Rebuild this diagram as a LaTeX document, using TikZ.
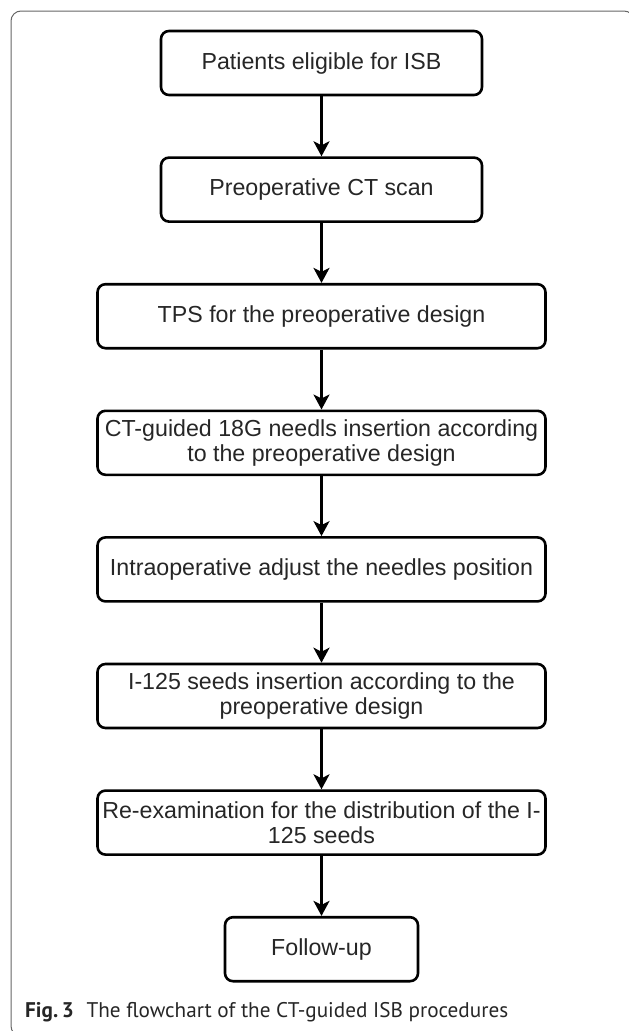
\documentclass[tikz,border=0pt]{standalone}
\usepackage{fontspec}
\setmainfont{Liberation Sans}
\newfontfamily\capfont{PT Sans}
\usetikzlibrary{positioning,arrows.meta}

\begin{document}
\begin{tikzpicture}
   [x=1pt,y=1pt,
    flow/.style={rectangle,draw,line width=2.6pt,rounded corners=8pt,
     minimum height=64pt,align=center,inner sep=2pt,text=black!85,
     font=\fontsize{23.2}{24.5}\selectfont},
    wide/.style={minimum width=448pt},
    link/.style={-{Stealth[length=15pt,width=16pt,inset=4pt]},line width=2.6pt},
    node distance=60pt]

\useasboundingbox (0,0) rectangle (629,-1031);
\clip (0,0) rectangle (629,-1031);
\draw [black!60,line width=1pt,rounded corners=10pt] (11,-11) rectangle (634,-1036);

\node [flow,minimum width=321pt] (pat) at (321.5,-63) {Patients eligible for ISB};
\node [flow,minimum width=321pt,below=of pat] (ct) {Preoperative CT scan};
\node [flow,wide,below=of ct] (tps) {TPS for the preoperative design};
\node [flow,wide,below=of tps] (needle) {CT-guided 18G needls insertion according\\to the preoperative design};
\node [flow,wide,below=of needle] (adjust) {Intraoperative adjust the needles position};
\node [flow,wide,below=of adjust] (seed) {I-125 seeds insertion according to the\\preoperative design};
\node [flow,wide,below=of seed] (reexam) {Re-examination for the distribution of the I-\\125 seeds};
\node [flow,minimum width=193pt,below=of reexam] (follow) {Follow-up};

\draw [link] (pat) -- (ct);
\draw [link] (ct) -- (tps);
\draw [link] (tps) -- (needle);
\draw [link] (needle) -- (adjust);
\draw [link] (adjust) -- (seed);
\draw [link] (seed) -- (reexam);
\draw [link] (reexam) -- (follow);

\node [anchor=base west,inner sep=0pt,text=black!85] (cap) at (25,-1017)
  {\capfont\fontsize{21.2}{21.2}\selectfont\textbf{Fig.\,3}\hspace{0.6em}The flowchart of the CT-guided ISB procedures};
\end{tikzpicture}
\end{document}
